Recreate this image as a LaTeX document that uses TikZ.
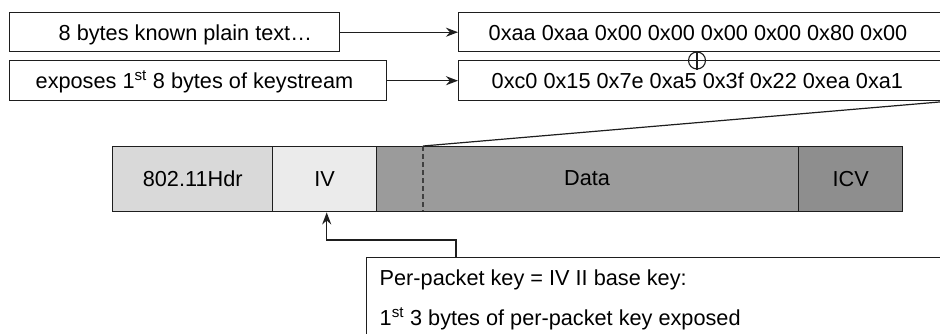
\documentclass[tikz,border=0pt]{standalone}
\usepackage{fontspec}
\setmainfont{Liberation Sans}
\usetikzlibrary{arrows.meta}
\definecolor{hdrfill}{HTML}{D9D9D9}
\definecolor{ivfill}{HTML}{EBEBEB}
\definecolor{datafill}{HTML}{9B9B9B}
\definecolor{icvfill}{HTML}{8E8E8E}
\definecolor{linec}{HTML}{1E1E1E}
\begin{document}
\begin{tikzpicture}[x=1pt,y=-1pt,
  line width=1.4pt,
  box/.style={draw=linec, inner sep=0pt, anchor=north west},
  seg/.style={draw=linec, inner sep=0pt, anchor=north west, minimum height=65pt, font=\fontsize{21.7}{26}\selectfont},
  txt/.style={inner sep=0pt, anchor=base west, font=\fontsize{21.7}{26}\selectfont},
  arr/.style={draw=linec, -{Stealth[length=12pt,width=9pt]}}]
\useasboundingbox (0,0) rectangle (940,333);
\clip (0,0) rectangle (940,333);
\fill[white] (0,0) rectangle (940,333);
% top boxes
\node[box, minimum width=330pt, minimum height=39pt] (b1) at (9,12) {};
\node[box, minimum width=377pt, minimum height=40pt] (b2) at (9,60) {};
\node[box, minimum width=487pt, minimum height=39pt] (b3) at (458,12) {};
\node[box, minimum width=487pt, minimum height=40pt] (b4) at (458,60) {};
\node[txt] (t1) at (58,40.5) {8 bytes known plain text…};
\node[txt] (t2) at (35,88) {exposes 1\textsuperscript{st} 8 bytes of keystream};
\node[txt] (t3) at (488,40) {0xaa 0xaa 0x00 0x00 0x00 0x00 0x80 0x00};
\node[txt] (t4) at (491,88) {0xc0 0x15 0x7e 0xa5 0x3f 0x22 0xea 0xa1};
\draw[arr] (b1.east) -- (b3.west);
\draw[arr] (b2.east) -- (b4.west);
% xor
\node[circle, draw=linec, minimum size=17pt, inner sep=0pt, line width=1.1pt] (xor) at (697,60.5) {};
\draw[linec, line width=1.1pt] (xor.north) -- (xor.south) (xor.west) -- (xor.east);
% packet
\node[seg, fill=hdrfill, minimum width=160pt] (hdr) at (112,146) {802.11Hdr};
\node[seg, fill=ivfill, minimum width=104pt] (iv) at (272,146) {IV};
\node[seg, fill=datafill, minimum width=422pt] (data) at (376,146) {};
\node[seg, fill=icvfill, minimum width=104pt] (icv) at (798,146) {ICV};
\node[font=\fontsize{21.7}{26}\selectfont, inner sep=0pt] (datalbl) at (587,178.5) {Data};
\coordinate (dtop) at (423,146);
\coordinate (dbot) at (423,211);
\draw[draw=black!75, line width=1.2pt, dash pattern=on 5pt off 3pt] (dtop) -- (dbot);
\draw[linec, line width=1.2pt] (dtop) -- (b4.south east);
% bottom box
\node[box, minimum width=620pt, minimum height=120pt] (kbox) at (366,257) {};
\node[txt] (k1) at (379,285.5) {Per-packet key = IV II base key:};
\node[txt] (k2) at (379,325) {1\textsuperscript{st} 3 bytes of per-packet key exposed};
\draw[arr] ([xshift=90pt]kbox.north west) -- ++(0,-17) -| ([xshift=2pt]iv.south);
\end{tikzpicture}
\end{document}
